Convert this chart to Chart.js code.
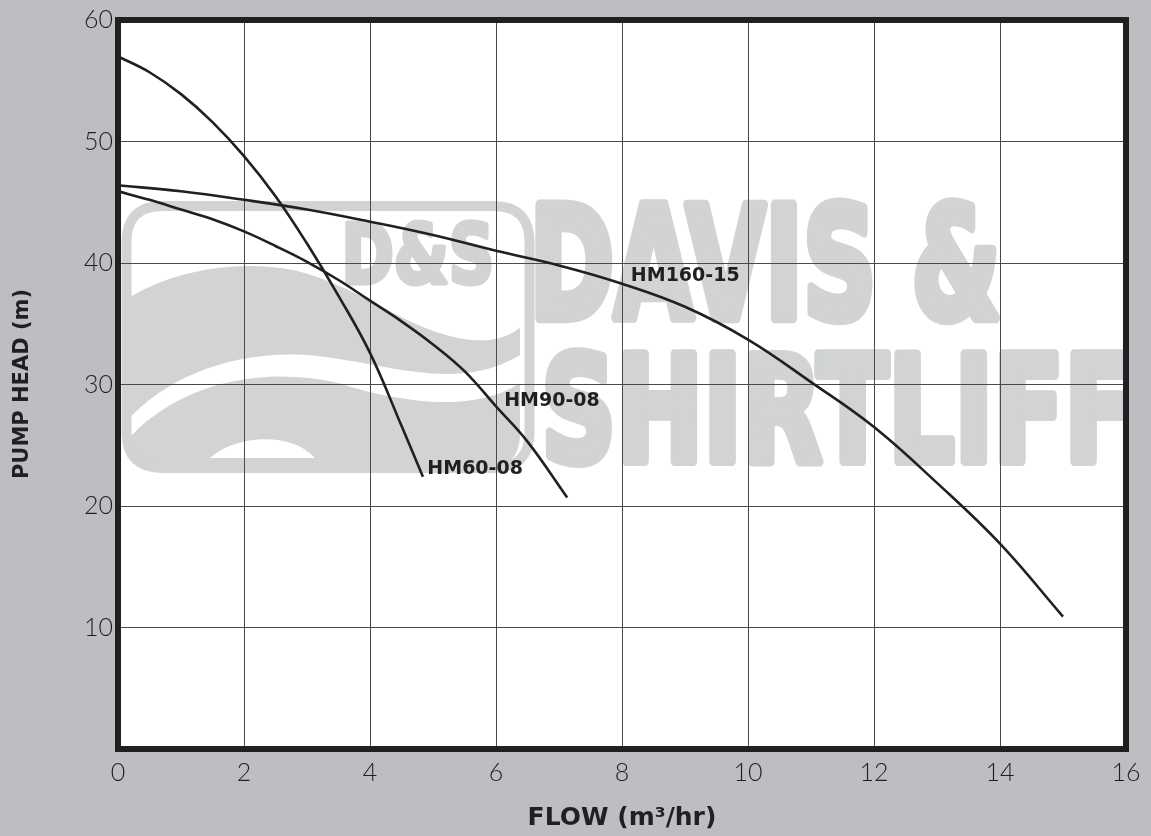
<!DOCTYPE html>
<html>
<head>
<meta charset="utf-8">
<script src="https://cdn.jsdelivr.net/npm/chart.js@4.4.1/dist/chart.umd.min.js"></script>
<style>
  html, body { margin: 0; padding: 0; background: #bdbec1; }
  canvas { display: block; }
</style>
</head>
<body>
<canvas id="pumpChart" width="1151" height="836"></canvas>
<script>
// curve values (flow m3/hr, head m)
const hm60Flow = [0, 0.5, 1, 1.5, 2, 2.5, 3, 3.5, 4, 4.5, 4.84];
const hm60Head = [57.0, 55.7, 53.9, 51.6, 48.8, 45.5, 41.6, 37.3, 32.6, 26.6, 22.4];

const hm90Flow = [0, 0.5, 1, 1.5, 2, 2.5, 3, 3.5, 4, 4.5, 5, 5.5, 6, 6.5, 7.13];
const hm90Head = [45.9, 45.2, 44.4, 43.6, 42.6, 41.4, 40.1, 38.6, 36.9, 35.2, 33.3, 31.1, 28.2, 25.3, 20.7];

const hm160Flow = [0, 1, 2, 3, 4, 5, 6, 7, 8, 9, 10, 11, 12, 13, 14, 15];
const hm160Head = [46.4, 45.9, 45.2, 44.4, 43.4, 42.3, 41.0, 39.8, 38.3, 36.4, 33.7, 30.2, 26.5, 21.9, 16.9, 10.9];

const curveNames = ["HM60-08", "HM90-08", "HM160-15"];
// where each name sits (left edge x, middle y) in data units
const labelFlow = [4.91, 6.13, 8.14];
const labelHead = [23.0, 28.6, 38.9];

const xTicks = [0, 2, 4, 6, 8, 10, 12, 14, 16];
const yTicks = [10, 20, 30, 40, 50, 60];

const ink = "#231f20";
const mark = "#d1d3d4";

function toPoints(xs, ys) {
  return xs.map((x, i) => ({ x: x, y: ys[i] }));
}

// draws text stretched into a box, with a stroke to fatten it
function fitText(ctx, text, x0, x1, top, bottom, font, fat) {
  ctx.save();
  ctx.font = font;
  const m = ctx.measureText(text);
  const w = m.actualBoundingBoxLeft + m.actualBoundingBoxRight;
  const h = m.actualBoundingBoxAscent + m.actualBoundingBoxDescent;
  const sx = (x1 - x0 - fat) / w, sy = (bottom - top - fat) / h;
  ctx.translate(x0 + fat / 2, top + fat / 2);
  ctx.scale(sx, sy);
  ctx.textBaseline = "alphabetic";
  ctx.textAlign = "left";
  ctx.fillText(text, m.actualBoundingBoxLeft, m.actualBoundingBoxAscent);
  if (fat > 0) {
    ctx.lineJoin = "round";
    ctx.lineWidth = fat / sx;
    ctx.strokeStyle = ctx.fillStyle;
    ctx.strokeText(text, m.actualBoundingBoxLeft, m.actualBoundingBoxAscent);
  }
  ctx.restore();
}

function roundRect(ctx, x, y, w, h, r) {
  ctx.beginPath();
  ctx.moveTo(x + r, y);
  ctx.lineTo(x + w - r, y);
  ctx.quadraticCurveTo(x + w, y, x + w, y + r);
  ctx.lineTo(x + w, y + h - r);
  ctx.quadraticCurveTo(x + w, y + h, x + w - r, y + h);
  ctx.lineTo(x + r, y + h);
  ctx.quadraticCurveTo(x, y + h, x, y + h - r);
  ctx.lineTo(x, y + r);
  ctx.quadraticCurveTo(x, y, x + r, y);
  ctx.closePath();
}

const backdrop = {
  id: "backdrop",
  beforeDraw(chart) {
    const { ctx, chartArea: a } = chart;
    ctx.save();
    ctx.fillStyle = "#bdbec1";
    ctx.fillRect(0, 0, chart.width, chart.height);
    ctx.fillStyle = "#ffffff";
    ctx.fillRect(a.left, a.top, a.right - a.left, a.bottom - a.top);

    // watermark, placed from the plot corner
    ctx.beginPath();
    ctx.rect(a.left, a.top, a.right - a.left, a.bottom - a.top);
    ctx.clip();
    const L = a.left, T = a.top;
    ctx.fillStyle = mark;

    // logo: waves inside a rounded frame
    ctx.save();
    roundRect(ctx, L + 8, T + 186, 394, 262, 34);
    ctx.clip();
    ctx.beginPath();
    ctx.moveTo(L + 8, T + 280);
    ctx.bezierCurveTo(L + 45, T + 255, L + 110, T + 238, L + 175, T + 250);
    ctx.bezierCurveTo(L + 240, T + 265, L + 280, T + 305, L + 340, T + 318);
    ctx.bezierCurveTo(L + 370, T + 324, L + 390, T + 318, L + 404, T + 306);
    ctx.lineTo(L + 404, T + 450);
    ctx.lineTo(L + 8, T + 450);
    ctx.closePath();
    ctx.fill();
    // white swoosh
    ctx.fillStyle = "#ffffff";
    ctx.beginPath();
    ctx.moveTo(L + 8, T + 402);
    ctx.bezierCurveTo(L + 50, T + 355, L + 120, T + 328, L + 200, T + 336);
    ctx.bezierCurveTo(L + 280, T + 346, L + 340, T + 372, L + 404, T + 334);
    ctx.lineTo(L + 404, T + 362);
    ctx.bezierCurveTo(L + 360, T + 392, L + 290, T + 385, L + 220, T + 363);
    ctx.bezierCurveTo(L + 130, T + 343, L + 50, T + 372, L + 8, T + 422);
    ctx.closePath();
    ctx.fill();
    // white dome
    ctx.beginPath();
    ctx.moveTo(L + 92, T + 438);
    ctx.bezierCurveTo(L + 115, T + 416, L + 172, T + 410, L + 197, T + 438);
    ctx.closePath();
    ctx.fill();
    ctx.restore();

    ctx.strokeStyle = mark;
    ctx.lineWidth = 10;
    roundRect(ctx, L + 8.5, T + 186, 403, 262, 36);
    ctx.stroke();

    ctx.fillStyle = mark;
    fitText(ctx, "D&S", L + 227, L + 374, T + 199, T + 266, "bold 90px 'DejaVu Sans'", 4);
    fitText(ctx, "DAVIS &", L + 417, L + 882, T + 178, T + 303, "bold 160px 'DejaVu Sans'", 7);
    fitText(ctx, "SHIRTLIFF", L + 427, L + 1012, T + 328, T + 446, "bold 160px 'DejaVu Sans'", 7);
    ctx.restore();
  },
  afterDraw(chart) {
    const { ctx, chartArea: a, scales } = chart;
    ctx.save();
    // heavy frame
    ctx.strokeStyle = ink;
    ctx.lineWidth = 6;
    ctx.strokeRect(a.left, a.top, a.right - a.left, a.bottom - a.top);

    // curve names
    ctx.fillStyle = ink;
    ctx.font = "bold 19px 'DejaVu Sans'";
    ctx.textAlign = "left";
    ctx.textBaseline = "middle";
    curveNames.forEach((name, i) => {
      ctx.fillText(name, scales.x.getPixelForValue(labelFlow[i]), scales.y.getPixelForValue(labelHead[i]));
    });

    // axis titles
    ctx.font = "bold 25px 'DejaVu Sans'";
    ctx.textAlign = "center";
    ctx.fillText("FLOW (m\u00b3/hr)", (a.left + a.right) / 2, 818);
    ctx.translate(23, 384);
    ctx.rotate(-Math.PI / 2);
    ctx.font = "bold 21px 'DejaVu Sans'";
    ctx.fillText("PUMP HEAD (m)", 0, 0);
    ctx.restore();
  }
};

function curve(label, xs, ys) {
  return {
    label: label,
    data: toPoints(xs, ys),
    showLine: true,
    borderColor: ink,
    borderWidth: 2.6,
    pointRadius: 0,
    tension: 0.4,
    fill: false
  };
}

new Chart(document.getElementById("pumpChart"), {
  type: "scatter",
  data: {
    datasets: [
      curve(curveNames[0], hm60Flow, hm60Head),
      curve(curveNames[1], hm90Flow, hm90Head),
      curve(curveNames[2], hm160Flow, hm160Head)
    ]
  },
  options: {
    responsive: false,
    animation: false,
    devicePixelRatio: 1,
    layout: { padding: { left: 0, top: 19, right: 25, bottom: 0 } },
    plugins: { legend: { display: false }, tooltip: { enabled: false } },
    scales: {
      x: {
        type: "linear",
        min: 0,
        max: 16,
        afterBuildTicks: (s) => { s.ticks = xTicks.map((v) => ({ value: v })); },
        afterFit: (s) => { s.height = 87; },
        grid: { color: "#4a4a4a", lineWidth: 1, drawTicks: false },
        border: { display: false },
        ticks: { color: ink, padding: 9, font: { family: "Lato", size: 25, weight: "300" } }
      },
      y: {
        type: "linear",
        min: 0,
        max: 60,
        afterBuildTicks: (s) => { s.ticks = yTicks.map((v) => ({ value: v })); },
        afterFit: (s) => { s.width = 118; },
        grid: { color: "#4a4a4a", lineWidth: 1, drawTicks: false },
        border: { display: false },
        ticks: { color: ink, padding: 5, font: { family: "Lato", size: 25, weight: "300" } }
      }
    }
  },
  plugins: [backdrop]
});
</script>
</body>
</html>
